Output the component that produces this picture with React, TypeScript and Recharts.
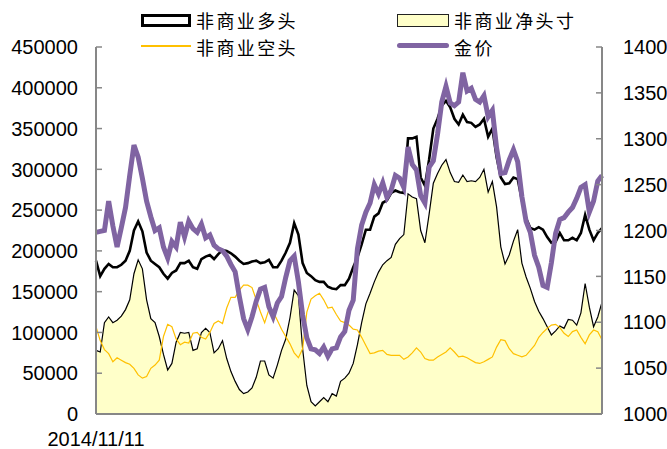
import { Area, ComposedChart, Line, XAxis, YAxis } from 'recharts'

const startLabel = '2014/11/11'

// 非商业多头 (weekly)
const longPos = [
  188000, 169000, 178000, 184000, 180000, 180000, 183000, 188000, 200000, 225000,
  236000, 224000, 198000, 188000, 184000, 180000, 172000, 166000, 173000, 176000,
  185000, 185000, 188000, 180000, 178000, 190000, 193000, 195000, 190000, 196000,
  201000, 200000, 197000, 193000, 188000, 184000, 185000, 187000, 188000, 185000,
  186000, 189000, 180000, 180000, 188000, 198000, 210000, 234000, 220000, 185000,
  173000, 169000, 164000, 162000, 162000, 156000, 154000, 153000, 158000, 158000,
  166000, 180000, 192000, 208000, 226000, 226000, 242000, 246000, 259000, 262000,
  271000, 274000, 272000, 271000, 338000, 338000, 340000, 290000, 280000, 312000,
  350000, 362000, 378000, 384000, 376000, 362000, 355000, 367000, 358000, 357000,
  352000, 355000, 362000, 340000, 350000, 315000, 290000, 282000, 283000, 290000,
  288000, 262000, 240000, 228000, 226000, 229000, 226000, 217000, 210000, 211000,
  222000, 213000, 213000, 216000, 213000, 222000, 244000, 226000, 213000, 222000,
  228000,
]

// 非商业空头
const shortPos = [
  107000, 90000, 79000, 74000, 64000, 69000, 66000, 63000, 61000, 56000,
  48000, 44000, 46000, 56000, 60000, 66000, 95000, 110000, 107000, 92000,
  85000, 88000, 87000, 99000, 100000, 94000, 92000, 100000, 111000, 114000,
  111000, 130000, 143000, 143000, 152000, 158000, 158000, 155000, 140000, 125000,
  112000, 128000, 125000, 115000, 104000, 95000, 86000, 75000, 69000, 80000,
  125000, 141000, 145000, 148000, 140000, 130000, 131000, 122000, 114000, 112000,
  109000, 104000, 103000, 94000, 84000, 74000, 75000, 77000, 78000, 73000,
  72000, 72000, 72000, 67000, 70000, 75000, 81000, 76000, 68000, 66000,
  66000, 70000, 73000, 76000, 81000, 76000, 70000, 71000, 69000, 66000,
  63000, 62000, 64000, 67000, 70000, 82000, 91000, 90000, 80000, 74000,
  72000, 70000, 72000, 78000, 84000, 94000, 100000, 105000, 109000, 110000,
  106000, 99000, 95000, 101000, 103000, 94000, 86000, 97000, 103000, 101000,
  91000,
]

// 非商业净头寸
const netPos = [
  78000, 76000, 112000, 119000, 112000, 115000, 120000, 128000, 140000, 172000,
  189000, 178000, 140000, 117000, 112000, 95000, 73000, 54000, 62000, 88000,
  100000, 99000, 100000, 78000, 80000, 100000, 105000, 100000, 75000, 80000,
  90000, 68000, 52000, 40000, 30000, 25000, 27000, 32000, 45000, 65000,
  65000, 48000, 44000, 60000, 78000, 92000, 118000, 152000, 145000, 80000,
  35000, 15000, 10000, 15000, 20000, 15000, 25000, 22000, 40000, 44000,
  50000, 62000, 85000, 112000, 135000, 148000, 162000, 174000, 183000, 188000,
  192000, 208000, 215000, 220000, 270000, 266000, 264000, 225000, 210000, 245000,
  283000, 295000, 305000, 312000, 296000, 285000, 284000, 293000, 285000, 286000,
  285000, 290000, 300000, 272000, 285000, 254000, 205000, 184000, 195000, 212000,
  226000, 185000, 168000, 154000, 138000, 126000, 117000, 107000, 97000, 102000,
  108000, 105000, 116000, 115000, 109000, 124000, 160000, 131000, 107000, 119000,
  137000,
]

// 金价
const goldPrice = [
  1198, 1199, 1200, 1232, 1205, 1182, 1203, 1225, 1260, 1293,
  1280, 1257, 1232, 1215, 1200, 1203, 1182, 1170, 1188, 1182,
  1209, 1193, 1210, 1202, 1198, 1207, 1192, 1195, 1184, 1180,
  1178, 1172, 1163, 1155, 1128, 1104, 1092, 1106, 1123, 1136,
  1138, 1117, 1106, 1121, 1128, 1149, 1167, 1172, 1144, 1108,
  1083, 1071, 1070, 1066, 1073, 1063, 1071, 1072, 1084, 1090,
  1113, 1124, 1180, 1206, 1220, 1230, 1250, 1240, 1252, 1236,
  1244, 1260, 1257, 1247, 1291, 1272, 1266, 1238, 1230, 1269,
  1276, 1305, 1340, 1357, 1339, 1336, 1340, 1372, 1352, 1355,
  1343, 1340, 1347, 1324, 1331, 1290, 1262, 1263, 1277, 1288,
  1275, 1237, 1210, 1198, 1173, 1160, 1140, 1138, 1165, 1197,
  1212, 1214, 1220, 1225, 1235, 1247, 1250, 1220, 1232, 1254,
  1260,
]

const leftTicks = [0, 50000, 100000, 150000, 200000, 250000, 300000, 350000, 400000, 450000]
const rightTicks = [1000, 1050, 1100, 1150, 1200, 1250, 1300, 1350, 1400]

const data = longPos.map((v, i) => ({
  idx: i,
  long: v,
  short: shortPos[i],
  net: netPos[i],
  price: goldPrice[i],
}))

const AXIS_GREY = '#878787'
const FONT = '"Liberation Sans", Arial, sans-serif'
const CJK = '"Noto Sans CJK SC", sans-serif'

function LeftTick(props: any) {
  const { x, y, payload } = props
  return (
    <g>
      <line x1={x + 18} x2={x + 24} y1={y} y2={y} stroke={AXIS_GREY} strokeWidth={1.5} />
      <text x={x} y={y} dy="0.36em" textAnchor="end" fontSize={20} fontFamily={FONT} fill="#000">
        {payload.value}
      </text>
    </g>
  )
}

function RightTick(props: any) {
  const { x, y, payload } = props
  return (
    <g>
      <line x1={x - 21} x2={x - 27} y1={y} y2={y} stroke={AXIS_GREY} strokeWidth={1.5} />
      <text x={x} y={y} dy="0.36em" textAnchor="start" fontSize={20} fontFamily={FONT} fill="#000">
        {payload.value}
      </text>
    </g>
  )
}

function LegendBlock() {
  // rows sit close together, so the text is a touch smaller with extra spacing
  const txt = {
    position: 'absolute' as const,
    fontSize: 18,
    letterSpacing: '2.4px',
    fontFamily: CJK,
    lineHeight: '26px',
    height: 26,
    color: '#000',
    whiteSpace: 'nowrap' as const,
  }
  return (
    <>
      <div style={{ position: 'absolute', left: 141, top: 14, width: 50, height: 13, boxSizing: 'border-box', border: '3px solid #000', background: '#fff' }} />
      <div style={{ ...txt, left: 196, top: 6.5 }}>非商业多头</div>
      <div style={{ position: 'absolute', left: 397, top: 14, width: 52, height: 13, boxSizing: 'border-box', border: '1.5px solid #222', background: '#FFFFC9' }} />
      <div style={{ ...txt, left: 454, top: 6.5 }}>非商业净头寸</div>
      <div style={{ position: 'absolute', left: 141, top: 45, width: 50, height: 1.5, background: '#FFC000' }} />
      <div style={{ ...txt, left: 196, top: 33.5 }}>非商业空头</div>
      <div style={{ position: 'absolute', left: 397, top: 43, width: 52, height: 5, borderRadius: 3, background: '#8064A2' }} />
      <div style={{ ...txt, left: 454, top: 33.5 }}>金价</div>
    </>
  )
}

export default function App() {
  return (
    <div style={{ position: 'absolute', left: 0, top: 0, width: 667, height: 449, background: '#fff' }}>
      <ComposedChart width={667} height={449} data={data} margin={{ top: 47, right: 0, bottom: 0, left: 0 }}>
        <XAxis
          dataKey="idx"
          type="number"
          domain={[0, 120]}
          ticks={[0]}
          tickFormatter={() => startLabel}
          tickLine={false}
          tickSize={0}
          tickMargin={18}
          height={35}
          axisLine={{ stroke: AXIS_GREY, strokeWidth: 2 }}
          tick={{ fontSize: 20, fontFamily: FONT, fill: '#000' }}
        />
        <YAxis
          yAxisId="left"
          domain={[0, 450000]}
          ticks={leftTicks}
          width={96}
          tickLine={false}
          tickSize={0}
          tickMargin={18}
          axisLine={{ stroke: AXIS_GREY, strokeWidth: 2 }}
          tick={<LeftTick />}
        />
        <YAxis
          yAxisId="right"
          orientation="right"
          domain={[1000, 1400]}
          ticks={rightTicks}
          width={65}
          tickLine={false}
          tickSize={0}
          tickMargin={21}
          axisLine={{ stroke: AXIS_GREY, strokeWidth: 2 }}
          tick={<RightTick />}
        />
        <Area
          yAxisId="left"
          dataKey="net"
          type="linear"
          fill="#FFFFC9"
          fillOpacity={1}
          stroke="#000"
          strokeWidth={1.2}
          dot={false}
          activeDot={false}
          isAnimationActive={false}
        />
        <Line
          yAxisId="left"
          dataKey="short"
          type="linear"
          stroke="#FFC000"
          strokeWidth={1.2}
          dot={false}
          activeDot={false}
          isAnimationActive={false}
        />
        <Line
          yAxisId="left"
          dataKey="long"
          type="linear"
          stroke="#000"
          strokeWidth={2.6}
          dot={false}
          activeDot={false}
          isAnimationActive={false}
        />
        <Line
          yAxisId="right"
          dataKey="price"
          type="linear"
          stroke="#8064A2"
          strokeWidth={5}
          dot={false}
          activeDot={false}
          isAnimationActive={false}
        />
      </ComposedChart>
      <LegendBlock />
    </div>
  )
}
